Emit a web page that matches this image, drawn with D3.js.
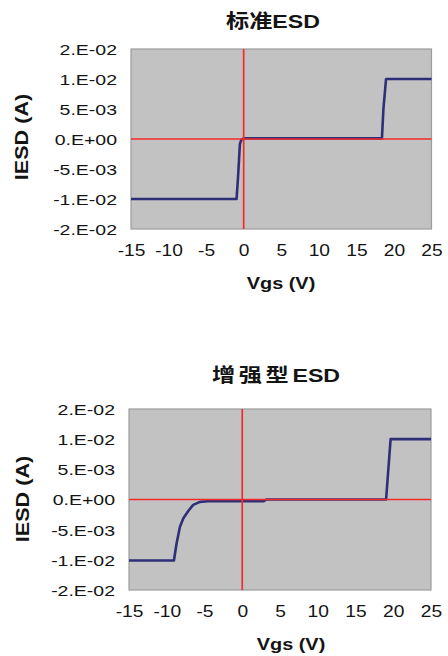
<!DOCTYPE html>
<html>
<head>
<meta charset="utf-8">
<script src="https://cdn.jsdelivr.net/npm/d3@7"></script>
<style>
  html, body { margin: 0; padding: 0; background: #ffffff; }
  svg { display: block; }
  text { font-family: "Liberation Sans", Arial, "Noto Sans CJK SC", sans-serif; fill: #141414; }
</style>
</head>
<body>
<svg id="chart" width="448" height="656"></svg>
<script>
// Axis ticks (current axis uses the two-significant-digit "0.E+00" style labels)
const vgsTicks = [-15, -10, -5, 0, 5, 10, 15, 20, 25];
const iesdTicks = [-0.015, -0.01, -0.005, 0, 0.005, 0.01, 0.015];
const iesdTickLabels = ["-2.E-02", "-1.E-02", "-5.E-03", "0.E+00", "5.E-03", "1.E-02", "2.E-02"];

const panelTitles = ["标准ESD", "增强型ESD"];
const xTitle = "Vgs (V)";
const yTitle = "IESD (A)";

// Standard ESD protection: I-V sweep
const stdVgs  = [-15, -0.95, -0.75, -0.5, -0.3, 0, 18.4, 18.6, 18.95, 25];
const stdIesd = [-0.0100, -0.0100, -0.0063, -0.0008, -0.0001, 0.0001, 0.0001, 0.0050, 0.0100, 0.0100];

// Enhanced ESD protection: I-V sweep
const enhVgs  = [-15, -9.05, -8.7, -8.25, -7.8, -7.15, -6.5, -5.6, -4.5, 2.8, 3.2, 19.05, 19.65, 25];
const enhIesd = [-0.0101, -0.0101, -0.0073, -0.0045, -0.0031, -0.0019, -0.0009, -0.0004, -0.0003, -0.0003, 0.0000, 0.0000, 0.0100, 0.0100];

// Panel geometry
const panels = [
  { title: panelTitles[0], vgs: stdVgs, iesd: stdIesd,
    left: 131, right: 431.5, top: 49, bottom: 229,
    titleX: 273, titleY: 28, titleSpacing: 0,
    xLabelX: 281, xLabelY: 289, yLabelX: 22, yLabelY: 137 },
  { title: panelTitles[1], vgs: enhVgs, iesd: enhIesd,
    left: 129, right: 431, top: 409, bottom: 590,
    titleX: 276, titleY: 382, titleSpacing: 3,
    xLabelX: 291, xLabelY: 650, yLabelX: 23, yLabelY: 499 }
];

const svg = d3.select("#chart");

panels.forEach(p => {
  const g = svg.append("g");

  const x = d3.scaleLinear().domain([-15, 25]).range([p.left, p.right]);
  const y = d3.scaleLinear().domain([-0.015, 0.015]).range([p.bottom, p.top]);

  // plot area
  g.append("rect")
    .attr("x", p.left).attr("y", p.top)
    .attr("width", p.right - p.left).attr("height", p.bottom - p.top)
    .attr("fill", "#c2c2c2")
    .attr("stroke", "#9c9c9c")
    .attr("stroke-width", 1.2);

  // I-V curve
  const line = d3.line()
    .x((d, i) => x(p.vgs[i]))
    .y((d, i) => y(p.iesd[i]));
  g.append("path")
    .attr("d", line(p.vgs))
    .attr("fill", "none")
    .attr("stroke", "#2f2f78")
    .attr("stroke-width", 2.6)
    .attr("stroke-linejoin", "round");

  // red zero axes
  g.append("line")
    .attr("x1", x(-15)).attr("x2", x(25))
    .attr("y1", y(0)).attr("y2", y(0))
    .attr("stroke", "#f52a2a").attr("stroke-width", 1.7);
  g.append("line")
    .attr("x1", x(0)).attr("x2", x(0))
    .attr("y1", y(0.015)).attr("y2", y(-0.015))
    .attr("stroke", "#f52a2a").attr("stroke-width", 1.7);

  // y axis
  const yAxis = d3.axisLeft(y)
    .tickValues(iesdTicks)
    .tickFormat((d, i) => iesdTickLabels[i])
    .tickSize(0);
  const yg = g.append("g").attr("transform", `translate(${p.left},0)`).call(yAxis);
  yg.select(".domain").remove();
  yg.selectAll("text")
    .attr("x", -14 / 1.3)
    .attr("dy", "0.36em")
    .attr("transform", "scale(1.3,1)")
    .style("font-size", "15px")
    .style("fill", "#141414")
    .style("font-family", "'Liberation Sans', Arial, sans-serif");

  // x axis
  const xAxis = d3.axisBottom(x)
    .tickValues(vgsTicks)
    .tickFormat(d3.format("d"))
    .tickSize(0);
  const xg = g.append("g").attr("transform", `translate(0,${p.bottom})`).call(xAxis);
  xg.select(".domain").remove();
  xg.selectAll("text")
    .attr("y", 27).attr("dy", null)
    .attr("transform", "scale(1.2,1)")
    .style("font-size", "16px")
    .style("fill", "#141414")
    .style("font-family", "'Liberation Sans', Arial, sans-serif")
    .text(d => d3.format("d")(d).replace("−", "-"));

  // title: Chinese part and "ESD" part
  const parts = p.title.match(/^(.*?)(ESD)$/);
  const t = g.append("text")
    .attr("transform", `translate(${p.titleX},${p.titleY}) scale(1.22,1)`)
    .attr("text-anchor", "middle")
    .style("font-size", "19px")
    .style("font-weight", "bold");
  t.append("tspan").style("letter-spacing", p.titleSpacing + "px").text(parts[1]);
  t.append("tspan").text(parts[2]);

  // axis titles
  g.append("text")
    .attr("transform", `translate(${p.xLabelX},${p.xLabelY}) scale(1.17,1)`)
    .attr("text-anchor", "middle")
    .style("font-size", "17px")
    .style("font-weight", "bold")
    .text(xTitle);

  g.append("text")
    .attr("transform", `translate(${p.yLabelX},${p.yLabelY}) rotate(-90) scale(1.27,1.1)`)
    .attr("text-anchor", "middle")
    .attr("dominant-baseline", "central")
    .style("font-size", "17px")
    .style("font-weight", "bold")
    .text(yTitle);
});
</script>
</body>
</html>
